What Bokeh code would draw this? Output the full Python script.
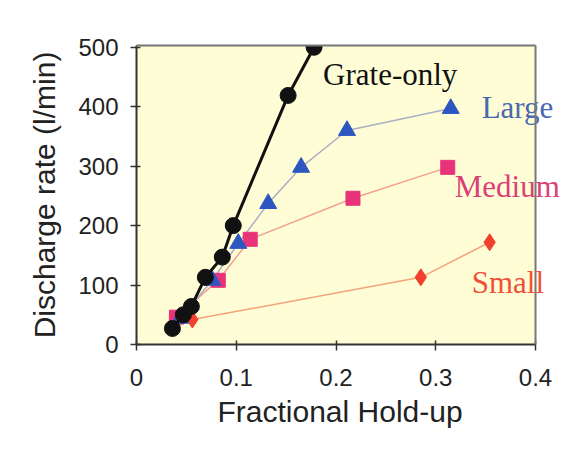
from bokeh.plotting import figure
from bokeh.models import Range1d, FixedTicker, Label, Title
from bokeh.embed import file_html
from bokeh.resources import INLINE

# Data
grate_x = [0.036, 0.047, 0.055, 0.069, 0.086, 0.097, 0.152, 0.178]
grate_y = [27, 50, 64, 113, 147, 200, 419, 500]

large_x = [0.044, 0.076, 0.102, 0.132, 0.165, 0.211, 0.315]
large_y = [44, 108, 170, 237, 298, 360, 397]

medium_x = [0.040, 0.082, 0.114, 0.217, 0.312]
medium_y = [46, 108, 177, 246, 298]

small_x = [0.056, 0.285, 0.354]
small_y = [42, 113, 172]

x_ticks = [0, 0.1, 0.2, 0.3, 0.4]
y_ticks = [0, 100, 200, 300, 400, 500]

X_MAX = 0.4
Y_MAX = 503

p = figure(width=587, height=458, output_backend="svg", toolbar_location=None,
           x_range=Range1d(0, 0.4521), y_range=Range1d(0, Y_MAX),
           min_border_left=136, min_border_right=0, min_border_top=45, min_border_bottom=114)

p.border_fill_color = "#ffffff"
p.background_fill_color = "#ffffff"
p.outline_line_color = None
p.grid.visible = False

# yellow plotting area
p.quad(left=[0], right=[X_MAX], bottom=[0], top=[Y_MAX], fill_color="#fffdd6",
       line_color=None, level="underlay")

for ax in (p.xaxis, p.yaxis):
    ax.axis_line_color = "#333333"
    ax.axis_line_width = 2
    ax.major_tick_line_color = "#333333"
    ax.major_tick_line_width = 1.5
    ax.major_tick_in = 4
    ax.major_tick_out = 6
    ax.minor_tick_line_color = None
    ax.major_label_text_font = "Liberation Sans"
    ax.major_label_text_font_size = "24px"
    ax.major_label_text_color = "#222222"
    ax.axis_label_text_font = "Liberation Sans"
    ax.axis_label_text_font_size = "30px"
    ax.axis_label_text_font_style = "normal"
    ax.axis_label_text_color = "#222222"

p.xaxis.bounds = (0, X_MAX)
p.xaxis.ticker = FixedTicker(ticks=x_ticks)
p.yaxis.ticker = FixedTicker(ticks=y_ticks)
p.xaxis.major_label_overrides = {0: "0", 0.1: "0.1", 0.2: "0.2", 0.3: "0.3", 0.4: "0.4"}
p.yaxis.axis_label = "Discharge rate (l/min)"
p.xaxis.major_label_standoff = 18
p.yaxis.major_label_standoff = 12
p.yaxis.axis_label_standoff = 14

# x-axis title, aligned over the plotting area (not the wider frame)
p.add_layout(Title(text="Fractional Hold-up", align="left", offset=81,
                   text_font="Liberation Sans", text_font_size="30px",
                   text_font_style="normal", text_color="#222222",
                   standoff=8), "below")

# series lines
p.line(small_x, small_y, line_color="#f4a27a", line_width=1.5)
p.line(medium_x, medium_y, line_color="#f2a090", line_width=1.5)
p.line(large_x, large_y, line_color="#a9b0c4", line_width=1.5)

# markers
p.scatter(small_x, small_y, marker="diamond", size=17, fill_color="#f2402e", line_color="#f2402e")
p.scatter(medium_x, medium_y, marker="square", size=14, fill_color="#e8337a", line_color="#e8337a")
p.scatter(large_x, large_y, marker="triangle", size=17, fill_color="#2d56c0", line_color="#2d56c0")

p.line(grate_x, grate_y, line_color="#111111", line_width=3)
p.scatter(grate_x, grate_y, marker="circle", size=16, fill_color="#111111", line_color="#111111")

for (x, y, text, color, size) in [
    (0.187, 454, "Grate-only", "#111111", "31px"),
    (0.346, 398, "Large", "#4a68b0", "31px"),
    (0.319, 265, "Medium", "#dc3f78", "31px"),
    (0.336, 105, "Small", "#f0503a", "31px"),
]:
    p.add_layout(Label(x=x, y=y, text=text, text_color=color, text_font="Liberation Serif",
                       text_font_size=size, text_baseline="middle", text_align="left"))

# top and right frame borders of the plotting area
p.segment(x0=[0, X_MAX], y0=[Y_MAX, 0], x1=[X_MAX, X_MAX], y1=[Y_MAX, Y_MAX],
          line_color="#777777", line_width=2, level="overlay")

open("out.html", "w").write(file_html(p, INLINE))
